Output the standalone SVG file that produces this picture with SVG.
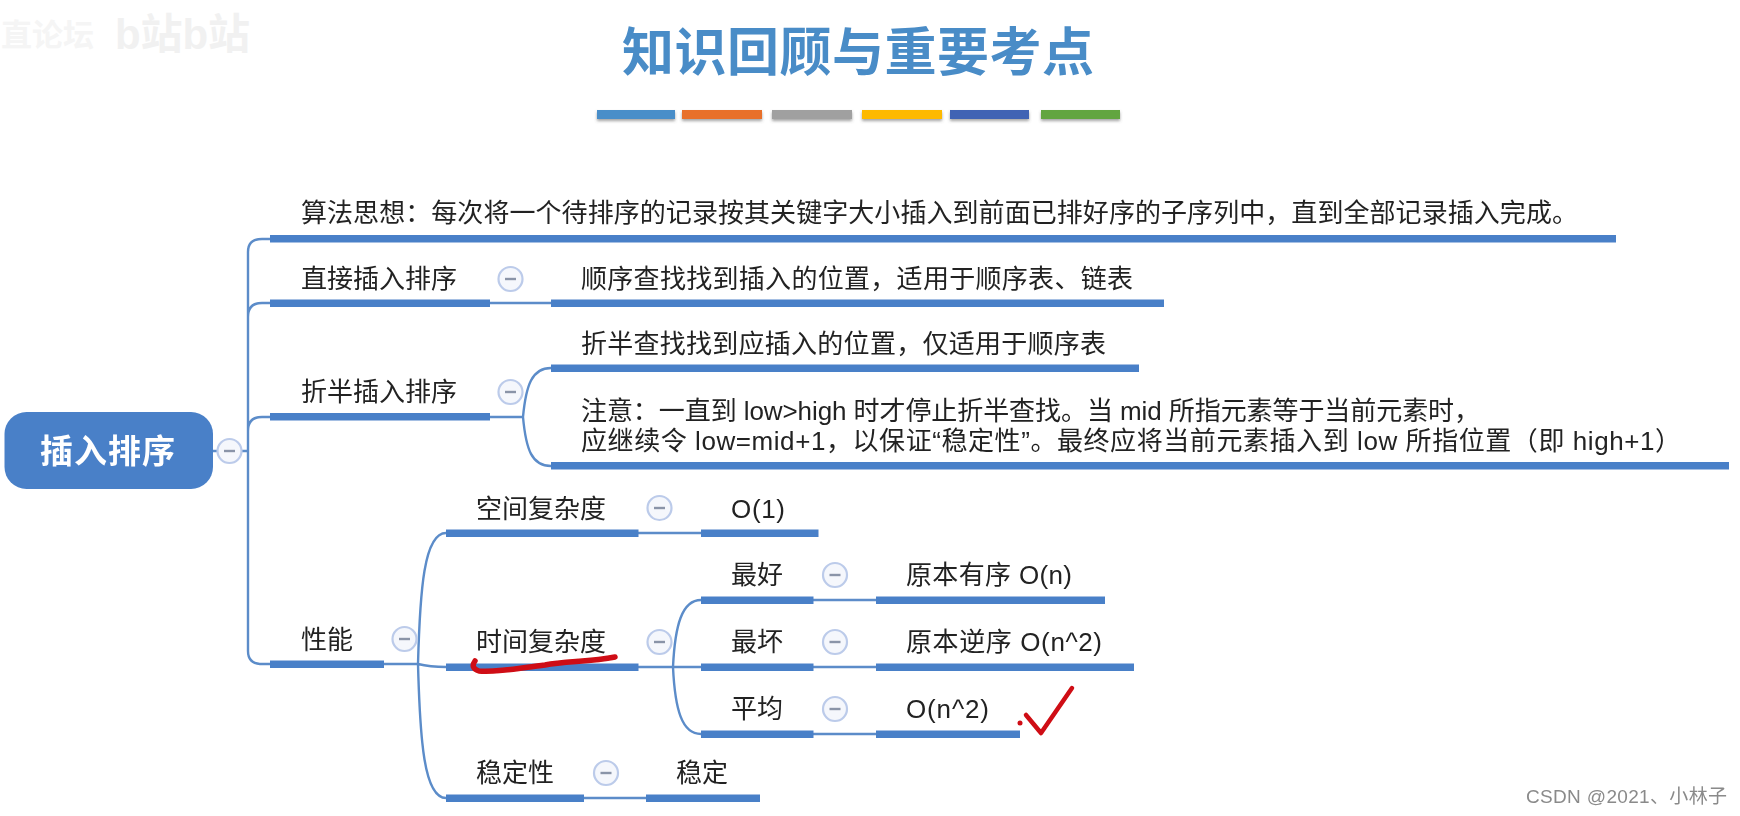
<svg xmlns="http://www.w3.org/2000/svg" width="1740" height="816" viewBox="0 0 1740 816">
<style>
text{font-family:"Liberation Sans","Noto Sans CJK SC",sans-serif}
.t{font-size:26px;fill:#222}
.bar{fill:#4a80c8}
.c{fill:none;stroke:#5b8cc9;stroke-width:2.4}
.col circle{fill:#f5f7fc;stroke:#bccbea;stroke-width:2.2}
.col rect{fill:#8a94a8}
.red{fill:none;stroke:#cf0f12;stroke-linecap:round;stroke-linejoin:round}
.cb{filter:url(#sh)}
</style>
<defs>
<filter id="sh" x="-10%" y="-50%" width="120%" height="220%"><feDropShadow dx="0" dy="2" stdDeviation="1.5" flood-color="#666" flood-opacity=".6"/></filter>
<filter id="soft"><feGaussianBlur stdDeviation="0.45"/></filter>
<g id="minus" class="col"><circle r="12"/><rect x="-5.500" y="-1.200" width="11" height="2.400"/></g>
</defs>
<rect width="1740" height="816" fill="#fff"/>
<g id="watermark" font-weight="bold">
<text x="1" y="46" font-size="31" fill="#f5f5f5">直论坛</text>
<text x="115" y="49" font-size="42" fill="#f1f1f1" textLength="135">b站b站</text>
</g>
<g filter="url(#soft)">
<g id="title">
<text x="622" y="71" font-size="52" font-weight="bold" fill="#4a8cc7" textLength="472">知识回顾与重要考点</text>
<rect class="cb" x="597" y="110" width="78" height="9" fill="#4a8ec9"/>
<rect class="cb" x="682" y="110" width="80" height="9" fill="#e8702a"/>
<rect class="cb" x="772" y="110" width="80" height="9" fill="#a0a0a0"/>
<rect class="cb" x="862" y="110" width="80" height="9" fill="#fdb900"/>
<rect class="cb" x="950" y="110" width="79" height="9" fill="#3f64b4"/>
<rect class="cb" x="1041" y="110" width="79" height="9" fill="#62a53f"/>
</g>
<g id="connectors">
<path class="c" d="M213 451H248M248 451V252Q248 239 262 239H270M248 317Q248 303 262 303H270M248 431Q248 417 262 417H270M248 451V651Q248 664 262 664H270"/>
<path class="c" d="M490 303H551M490 417H523M551 368C532 368 526 385 523 417C526 450 532 466 551 466"/>
<path class="c" d="M384 664H418Q430 667 446 667M446 533C424 533 420 590 418 664C420 740 424 798 446 798"/>
<path class="c" d="M638 533H701M638 667H701M701 600C682 600 675 625 673 667C675 710 682 734 701 734"/>
<path class="c" d="M813 600H876M813 667H876M813 734H876M584 798H646"/>
</g>
<g id="root">
<rect x="4.500" y="412" width="208.500" height="77" rx="22" fill="#4a80c8"/>
<text x="40" y="463" font-size="33" font-weight="bold" fill="#fff" textLength="135">插入排序</text>
<use href="#minus" x="229.500" y="451"/>
</g>
<g id="n-idea"><rect class="bar" x="270" y="235" width="1346" height="7.500"/><text class="t" x="301" y="222" textLength="1277">算法思想：每次将一个待排序的记录按其关键字大小插入到前面已排好序的子序列中，直到全部记录插入完成。</text></g>
<g id="n-direct"><rect class="bar" x="270" y="299.500" width="220" height="7.500"/><text class="t" x="301" y="288">直接插入排序</text><use href="#minus" x="510.500" y="279"/></g>
<g id="n-direct-1"><rect class="bar" x="551" y="299.500" width="613" height="7.500"/><text class="t" x="581" y="288" textLength="552">顺序查找找到插入的位置，适用于顺序表、链表</text></g>
<g id="n-binary"><rect class="bar" x="270" y="413" width="220" height="7.500"/><text class="t" x="301" y="401">折半插入排序</text><use href="#minus" x="510.500" y="392"/></g>
<g id="n-binary-1"><rect class="bar" x="551" y="364.500" width="588" height="7.500"/><text class="t" x="581" y="353" textLength="525">折半查找找到应插入的位置，仅适用于顺序表</text></g>
<g id="n-binary-2"><rect class="bar" x="551" y="462" width="1178" height="7.500"/><text class="t" x="581" y="419.500" textLength="899">注意：一直到 low&gt;high 时才停止折半查找。当 mid 所指元素等于当前元素时，</text><text class="t" x="581" y="450" textLength="1100">应继续令 low=mid+1，以保证“稳定性”。最终应将当前元素插入到 low 所指位置（即 high+1）</text></g>
<g id="n-perf"><rect class="bar" x="270" y="660.500" width="114" height="7.500"/><text class="t" x="301" y="649">性能</text><use href="#minus" x="404.500" y="639"/></g>
<g id="n-space"><rect class="bar" x="446" y="529.500" width="192.500" height="7.500"/><text class="t" x="476" y="518">空间复杂度</text><use href="#minus" x="659.500" y="508"/></g>
<g id="n-space-1"><rect class="bar" x="701" y="529.500" width="117.500" height="7.500"/><text class="t" x="731" y="518" textLength="54">O(1)</text></g>
<g id="n-time"><rect class="bar" x="446" y="663.500" width="192.500" height="7.500"/><text class="t" x="476" y="651">时间复杂度</text><use href="#minus" x="659.500" y="642"/></g>
<g id="n-best"><rect class="bar" x="701" y="596.500" width="112.500" height="7.500"/><text class="t" x="731" y="584">最好</text><use href="#minus" x="835" y="575"/></g>
<g id="n-best-1"><rect class="bar" x="876" y="596.500" width="229" height="7.500"/><text class="t" x="906" y="584" textLength="166">原本有序 O(n)</text></g>
<g id="n-worst"><rect class="bar" x="701" y="663.500" width="112.500" height="7.500"/><text class="t" x="731" y="651">最坏</text><use href="#minus" x="835" y="642"/></g>
<g id="n-worst-1"><rect class="bar" x="876" y="663.500" width="258" height="7.500"/><text class="t" x="906" y="651" textLength="196">原本逆序 O(n^2)</text></g>
<g id="n-avg"><rect class="bar" x="701" y="730.500" width="112.500" height="7.500"/><text class="t" x="731" y="718">平均</text><use href="#minus" x="835" y="709"/></g>
<g id="n-avg-1"><rect class="bar" x="876" y="730.500" width="144" height="7.500"/><text class="t" x="906" y="718" textLength="83">O(n^2)</text></g>
<g id="n-stable"><rect class="bar" x="446" y="794.500" width="138" height="7.500"/><text class="t" x="476" y="782">稳定性</text><use href="#minus" x="606" y="773"/></g>
<g id="n-stable-1"><rect class="bar" x="646" y="794.500" width="114" height="7.500"/><text class="t" x="676" y="782">稳定</text></g>
<g id="marks">
<path class="red" stroke-width="5.500" d="M475 661Q470 668 479 671C495 673 520 668 545 665C565 661 590 662 615 657"/>
<path class="red" stroke-width="4.500" d="M1026 715L1041 733L1072 688"/>
<circle cx="1020" cy="723" r="2.500" fill="#cf0f12"/>
</g>
</g>
<text id="credit" x="1526" y="803" font-size="19" fill="#8a8a8a" textLength="201">CSDN @2021、小林子</text>
</svg>
